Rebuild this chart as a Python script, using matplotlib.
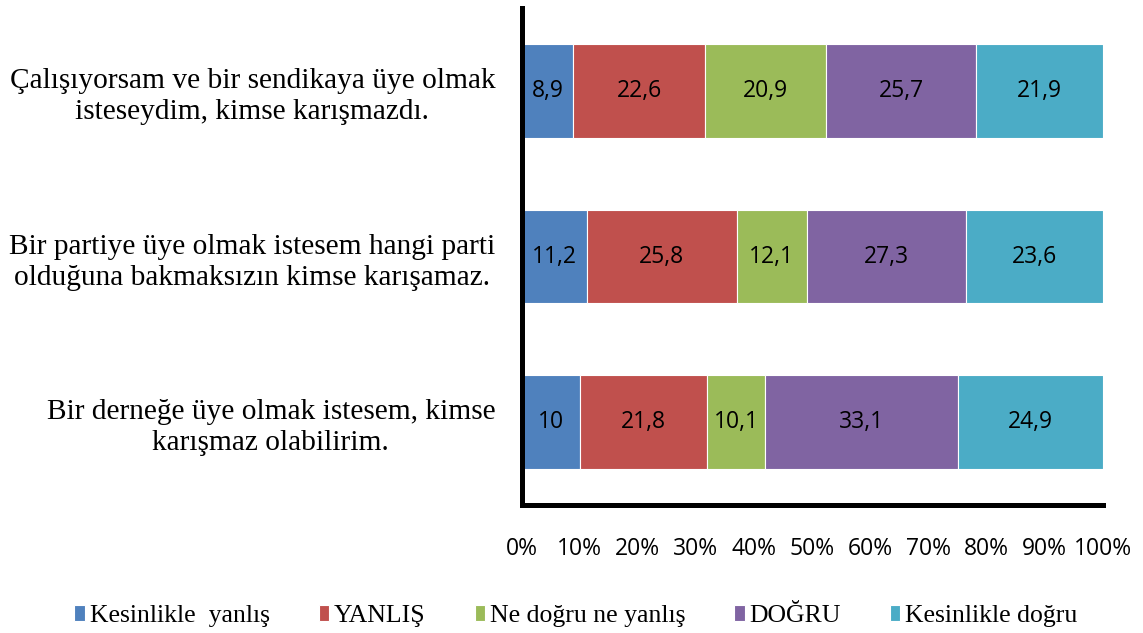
import numpy as np
import matplotlib.pyplot as plt

categories = [
    "Çalışıyorsam ve bir sendikaya üye olmak\nisteseydim, kimse karışmazdı.",
    "Bir partiye üye olmak istesem hangi parti\nolduğuna bakmaksızın kimse karışamaz.",
    "Bir derneğe üye olmak istesem, kimse\nkarışmaz olabilirim.",
]
series_names = ["Kesinlikle  yanlış", "YANLIŞ", "Ne doğru ne yanlış", "DOĞRU", "Kesinlikle doğru"]
kesinlikle_yanlis = [8.9, 11.2, 10]
yanlis = [22.6, 25.8, 21.8]
ne_dogru_ne_yanlis = [20.9, 12.1, 10.1]
dogru = [25.7, 27.3, 33.1]
kesinlikle_dogru = [21.9, 23.6, 24.9]
labels = [
    ["8,9", "11,2", "10"],
    ["22,6", "25,8", "21,8"],
    ["20,9", "12,1", "10,1"],
    ["25,7", "27,3", "33,1"],
    ["21,9", "23,6", "24,9"],
]
colors = ["#4F81BD", "#C0504D", "#9BBB59", "#8064A2", "#4BACC6"]

series = np.array([kesinlikle_yanlis, yanlis, ne_dogru_ne_yanlis, dogru, kesinlikle_dogru])
# 100% stacked
pct = series / series.sum(axis=0) * 100

fig = plt.figure(figsize=(11.43, 6.33), dpi=100)
ax = fig.add_axes([0.4563, 0.2022, 0.965 - 0.4563, 0.987 - 0.2022])

y = np.arange(len(categories))
left = np.zeros(len(categories))
for i, name in enumerate(series_names):
    bars = ax.barh(y, pct[i], left=left, height=0.566, color=colors[i],
                   edgecolor="white", linewidth=0.8, label=name)
    for j, b in enumerate(bars):
        ax.text(left[j] + pct[i][j] / 2, y[j], labels[i][j], ha="center", va="center",
                fontsize=16.5, family="Open Sans", color="black")
    left += pct[i]

ax.set_xlim(0, 100)
ax.set_ylim(len(categories) - 0.5, -0.5)
ax.set_xticks(np.arange(0, 101, 10))
ax.set_xticklabels([f"{v}%" for v in range(0, 101, 10)], family="Open Sans", fontsize=16.5)
ax.set_yticks(y)
ax.set_yticklabels(categories, family="Liberation Serif", fontsize=21.2,
                   multialignment="center", linespacing=1.25)
ax.tick_params(axis="y", length=0, pad=19)
ax.tick_params(axis="x", length=0, pad=23)

for s in ["top", "right"]:
    ax.spines[s].set_visible(False)
for s in ["left", "bottom"]:
    ax.spines[s].set_linewidth(3.6)
    ax.spines[s].set_color("black")

fig.legend(loc="center", bbox_to_anchor=(0.504, 0.027), ncol=5, frameon=False,
           prop={"family": "Liberation Serif", "size": 18.5},
           handlelength=0.4, handleheight=0.55, handletextpad=0.2, columnspacing=1.9)

fig.savefig("out.png", dpi=100)
